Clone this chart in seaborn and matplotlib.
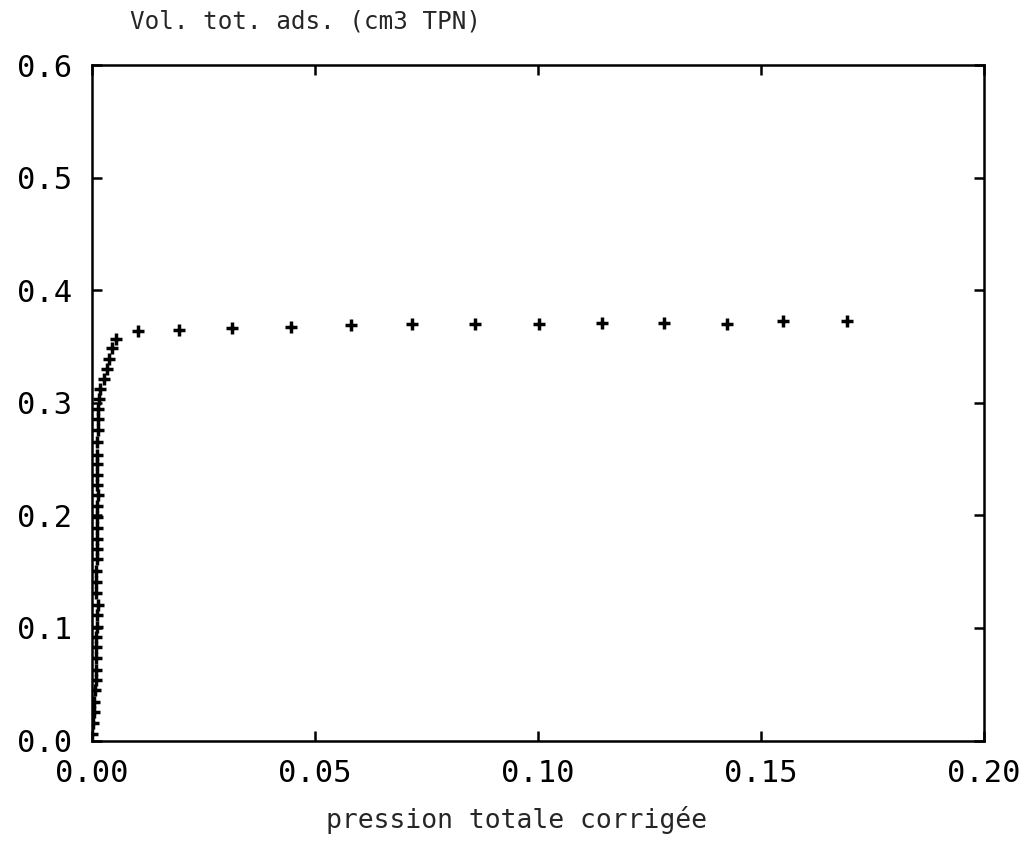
import matplotlib
matplotlib.use("Agg")
import matplotlib.pyplot as plt
import seaborn as sns
import pandas as pd

# Data
pression = [0.0000, 0.0002, 0.0005, 0.0005, 0.0007, 0.0008, 0.0008, 0.0008,
            0.0010, 0.0010, 0.0011, 0.0012, 0.0013, 0.0010, 0.0010, 0.0010,
            0.0011, 0.0011, 0.0012, 0.0012, 0.0011, 0.0012, 0.0013, 0.0012,
            0.0011, 0.0012, 0.0011, 0.0011, 0.0013, 0.0014, 0.0014, 0.0016,
            0.0018, 0.0027, 0.0034, 0.0038, 0.0045, 0.0054,
            0.0103, 0.0196, 0.0315, 0.0446, 0.0580, 0.0717, 0.0859,
            0.1003, 0.1143, 0.1282, 0.1424, 0.1550, 0.1693]
volume = [0.0058, 0.0153, 0.0256, 0.0345, 0.0449, 0.0538, 0.0627, 0.0731,
          0.0834, 0.0923, 0.1012, 0.1116, 0.1204, 0.1308, 0.1412, 0.1507,
          0.1611, 0.1700, 0.1788, 0.1886, 0.1989, 0.2084, 0.2182, 0.2271,
          0.2360, 0.2458, 0.2538, 0.2649, 0.2757, 0.2858, 0.2944, 0.3036,
          0.3127, 0.3213, 0.3300, 0.3388, 0.3492, 0.3569,
          0.3636, 0.3649, 0.3667, 0.3676, 0.3691, 0.3702, 0.3700,
          0.3705, 0.3711, 0.3714, 0.3705, 0.3732, 0.3732]

x_ticks = [0.00, 0.05, 0.10, 0.15, 0.20]
x_ticklabels = ["0.00", "0.05", "0.10", "0.15", "0.20"]
y_ticks = [0.0, 0.1, 0.2, 0.3, 0.4, 0.5, 0.6]
y_ticklabels = ["0.0", "0.1", "0.2", "0.3", "0.4", "0.5", "0.6"]

title_text = "Vol. tot. ads. (cm3 TPN)"
xlabel_text = "pression totale corrigée"

sns.set_style("white")
plt.rcParams['font.family'] = ['DejaVu Sans Mono', 'DejaVu Sans']

df = pd.DataFrame({"pression": pression, "volume": volume})

fig = plt.figure(figsize=(10.27, 8.51), dpi=100)
ax = fig.add_axes([92/1027, 1 - 740.5/851, (984-92)/1027, (740.5-65.3)/851])

sns.scatterplot(data=df, x="pression", y="volume", marker="+", s=70,
                color="black", linewidth=2.5, ax=ax, legend=False, zorder=3)

ax.set_xlim(0, 0.20)
ax.set_ylim(0, 0.6)
ax.set_xticks(x_ticks)
ax.set_xticklabels(x_ticklabels)
ax.set_yticks(y_ticks)
ax.set_yticklabels(y_ticklabels)

for sp in ax.spines.values():
    sp.set_visible(True)
    sp.set_color("black")
    sp.set_linewidth(1.8)

ax.tick_params(axis="both", direction="in", length=7, width=1.8,
               top=True, right=True, bottom=True, left=True,
               labelsize=22, colors="black")
ax.tick_params(axis="x", pad=13)
ax.tick_params(axis="y", pad=14)

ax.set_xlabel(xlabel_text, fontsize=19)
ax.xaxis.set_label_coords((517 - 92) / 892, -(820 - 740.5) / 675.2)
ax.xaxis.label.set_va("center")
ax.set_ylabel("")
fig.text(130/1027, 1 - 22/851, title_text, fontsize=17.5, ha="left", va="center")

fig.savefig("out.png", dpi=100)
